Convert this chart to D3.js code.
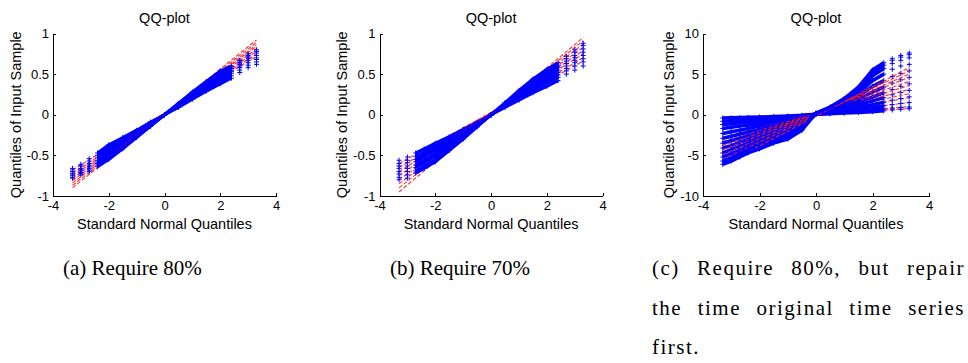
<!DOCTYPE html>
<html><head><meta charset="utf-8">
<script src="https://cdn.jsdelivr.net/npm/d3@7"></script>
<style>body{margin:0;background:#fff} svg{display:block}</style>
</head><body>
<svg id="chart" width="968" height="363"></svg>
<script>
// ---- data ----
const quantiles = [-3.3,-3.0,-2.7,-2.4,-2.0,-1.5,-1.0,-0.5,0,0.5,1.0,1.5,2.0,2.4,2.7,3.0,3.3];
const refX = [-3.3, 3.3];
const xTicks = [-4,-2,0,2,4];
const yTicksAB = [-1,-0.5,0,0.5,1];
const yTicksC = [-10,-5,0,5,10];

const seriesA = [
  [-0.66,-0.61,-0.54,-0.47,-0.37,-0.28,-0.19,-0.09,0.0,0.09,0.19,0.29,0.38,0.45,0.52,0.58,0.62],
  [-0.68,-0.63,-0.57,-0.50,-0.40,-0.30,-0.20,-0.10,0.0,0.10,0.20,0.31,0.41,0.48,0.55,0.61,0.65],
  [-0.70,-0.66,-0.60,-0.53,-0.43,-0.32,-0.21,-0.11,0.0,0.11,0.22,0.33,0.43,0.51,0.58,0.64,0.68],
  [-0.72,-0.67,-0.62,-0.56,-0.46,-0.35,-0.23,-0.11,0.0,0.12,0.23,0.35,0.46,0.53,0.60,0.67,0.70],
  [-0.73,-0.69,-0.64,-0.58,-0.49,-0.37,-0.25,-0.12,0.0,0.12,0.25,0.37,0.48,0.55,0.62,0.69,0.73],
  [-0.75,-0.71,-0.66,-0.60,-0.51,-0.39,-0.26,-0.13,0.0,0.13,0.26,0.39,0.50,0.57,0.64,0.71,0.76],
  [-0.77,-0.72,-0.68,-0.62,-0.53,-0.41,-0.27,-0.14,0.0,0.14,0.27,0.40,0.52,0.59,0.66,0.73,0.78],
  [-0.78,-0.74,-0.70,-0.64,-0.55,-0.42,-0.28,-0.14,0.0,0.14,0.28,0.41,0.54,0.60,0.67,0.75,0.80]
];
const refLinesA = [[-0.68,0.72],[-0.72,0.75],[-0.75,0.78],[-0.78,0.81],[-0.81,0.84],[-0.84,0.86],[-0.87,0.89],[-0.90,0.92]];

const seriesB = [
  [-0.56,-0.52,-0.47,-0.42,-0.35,-0.27,-0.18,-0.09,0.0,0.09,0.18,0.27,0.35,0.42,0.50,0.55,0.60],
  [-0.60,-0.56,-0.51,-0.46,-0.38,-0.29,-0.19,-0.10,0.0,0.10,0.20,0.30,0.39,0.46,0.54,0.60,0.65],
  [-0.63,-0.59,-0.55,-0.49,-0.41,-0.31,-0.21,-0.10,0.0,0.11,0.21,0.32,0.42,0.49,0.57,0.64,0.69],
  [-0.66,-0.63,-0.58,-0.52,-0.44,-0.34,-0.23,-0.11,0.0,0.12,0.23,0.34,0.45,0.52,0.60,0.67,0.73],
  [-0.70,-0.66,-0.62,-0.56,-0.48,-0.36,-0.25,-0.12,0.0,0.12,0.25,0.36,0.47,0.55,0.63,0.70,0.77],
  [-0.73,-0.70,-0.65,-0.59,-0.51,-0.39,-0.26,-0.13,0.0,0.13,0.26,0.39,0.50,0.58,0.66,0.73,0.81],
  [-0.77,-0.74,-0.69,-0.63,-0.55,-0.41,-0.28,-0.14,0.0,0.14,0.28,0.41,0.53,0.61,0.69,0.77,0.85],
  [-0.80,-0.78,-0.72,-0.66,-0.58,-0.44,-0.30,-0.15,0.0,0.15,0.30,0.44,0.56,0.64,0.72,0.80,0.88]
];
const refLinesB = [[-0.60,0.66],[-0.65,0.70],[-0.70,0.75],[-0.75,0.79],[-0.80,0.83],[-0.85,0.87],[-0.90,0.91],[-0.95,0.95]];

const seriesC = [
  [-0.4,-0.38,-0.35,-0.32,-0.28,-0.22,-0.15,-0.07,0.05,0.12,0.2,0.28,0.38,0.48,0.58,0.68,0.75],
  [-0.8,-0.75,-0.68,-0.6,-0.5,-0.38,-0.26,-0.12,0.05,0.18,0.3,0.44,0.6,0.72,0.82,0.9,0.95],
  [-1.2,-1.1,-1.0,-0.9,-0.75,-0.55,-0.38,-0.18,0.05,0.25,0.45,0.65,0.9,1.1,1.25,1.4,1.5],
  [-1.7,-1.55,-1.4,-1.25,-1.05,-0.8,-0.55,-0.27,0.08,0.35,0.62,0.9,1.25,1.55,1.8,2.0,2.2],
  [-2.3,-2.1,-1.9,-1.7,-1.4,-1.05,-0.72,-0.36,0.08,0.45,0.82,1.2,1.7,2.1,2.45,2.75,3.0],
  [-2.9,-2.65,-2.4,-2.15,-1.8,-1.35,-0.95,-0.47,0.1,0.55,1.0,1.55,2.2,2.7,3.1,3.5,3.8],
  [-3.5,-3.2,-2.9,-2.6,-2.2,-1.7,-1.2,-0.6,0.1,0.62,1.2,1.9,2.8,3.4,3.9,4.3,4.6],
  [-4.1,-3.8,-3.4,-3.05,-2.6,-2.1,-1.55,-0.8,0.12,0.7,1.4,2.3,3.5,4.2,4.7,5.1,5.4],
  [-4.7,-4.3,-3.9,-3.5,-3.0,-2.5,-1.95,-1.05,0.15,0.78,1.6,2.7,4.2,5.0,5.6,6.0,6.2],
  [-5.2,-4.8,-4.4,-3.9,-3.4,-2.9,-2.4,-1.35,0.15,0.85,1.75,3.0,4.8,5.7,6.3,6.7,7.0],
  [-5.7,-5.3,-4.8,-4.3,-3.8,-3.2,-2.75,-1.65,0.18,0.9,1.9,3.2,5.2,6.1,6.7,7.1,7.4],
  [-6.1,-5.7,-5.2,-4.7,-4.2,-3.5,-3.0,-1.9,0.2,0.95,2.0,3.4,5.5,6.4,6.9,7.3,7.6]
];
const refLinesC = [[-0.5,0.75],[-0.9,1.0],[-1.3,1.5],[-1.8,2.1],[-2.3,2.6],[-2.8,3.1],[-3.3,3.6],[-3.8,4.1],[-4.3,4.6],[-4.9,5.0],[-5.5,5.4],[-6.2,5.8]];

const titleText = "QQ-plot";
const xLabelText = "Standard Normal Quantiles";
const yLabelText = "Quantiles of Input Sample";
const captionA = ["(a) Require 80%"];
const captionB = ["(b) Require 70%"];
const captionC = ["(c) Require 80%, but repair", "the time original time series", "first."];

// ---- layout ----
const panels = [
  {series: seriesA, refs: refLinesA, yDomain: [-1,1], yTicks: yTicksAB, left: 53, right: 276, ylabX: 16,
   core: [-2.4, 2.4], lw: 3, caption: captionA, capX: 63, capW: [null], ls: 0},
  {series: seriesB, refs: refLinesB, yDomain: [-1,1], yTicks: yTicksAB, left: 379.5, right: 602.7, ylabX: 342,
   core: [-2.7, 2.4], lw: 3, caption: captionB, capX: 390, capW: [null], ls: 0},
  {series: seriesC, refs: refLinesC, yDomain: [-10,10], yTicks: yTicksC, left: 703, right: 929, ylabX: 669,
   core: [-3.3, 2.4], lw: 3.5, caption: captionC, capX: 652, capW: [313, 313, null], ls: 1.5}
];
const plotTop = 33.5, plotBottom = 196;
const sans = "'Liberation Sans', Helvetica, Arial, sans-serif";
const serif = "'Liberation Serif', 'Times New Roman', serif";
const svg = d3.select("#chart");
const fmt = d => String(d);

panels.forEach(p => {
  const xs = d3.scaleLinear().domain([-4,4]).range([p.left, p.right]);
  const ys = d3.scaleLinear().domain(p.yDomain).range([plotBottom, plotTop]);
  const g = svg.append("g");
  const line = d3.line().x(d => xs(d[0])).y(d => ys(d[1]));

  // one group per sample column: its red reference line, then its blue data
  const cols = p.series.map((s, i) => ({pts: s.map((v, k) => [quantiles[k], v]), ref: p.refs[i]}));
  const cg = g.append("g").selectAll("g").data(cols).join("g");
  cg.append("path")
    .attr("d", c => line([[refX[0], c.ref[0]], [refX[1], c.ref[1]]]))
    .attr("fill", "none").attr("stroke", "#ff1a1a").attr("stroke-width", 1.2)
    .attr("stroke-dasharray", "4,2").attr("opacity", 0.85);
  cg.append("path")
    .attr("d", c => line(c.pts.filter(d => d[0] >= p.core[0] && d[0] <= p.core[1])))
    .attr("fill", "none").attr("stroke", "#0000ff").attr("stroke-width", p.lw)
    .attr("stroke-linejoin", "round");
  cg.selectAll("path.m").data(c => c.pts).join("path").attr("class", "m")
    .attr("transform", d => `translate(${xs(d[0])},${ys(d[1])})`)
    .attr("d", "M-2.5,0H2.5M0,-2.5V2.5")
    .attr("stroke", "#0000ff").attr("stroke-width", 1).attr("fill", "none");

  // axes
  const xa = g.append("g").attr("transform", `translate(0,${plotBottom})`)
    .call(d3.axisBottom(xs).tickValues(xTicks).tickFormat(fmt).tickSizeInner(-3).tickSizeOuter(0).tickPadding(5));
  const ya = g.append("g").attr("transform", `translate(${p.left},0)`)
    .call(d3.axisLeft(ys).tickValues(p.yTicks).tickFormat(fmt).tickSizeInner(-3).tickSizeOuter(0).tickPadding(4));
  [xa, ya].forEach(a => {
    a.selectAll("path,line").attr("stroke", "#000").attr("shape-rendering", "crispEdges");
    a.selectAll("text").attr("font-family", sans).attr("font-size", 13).attr("fill", "#000");
  });

  // title and labels
  g.append("text").attr("x", xs(0)).attr("y", 23).attr("text-anchor", "middle")
    .attr("font-family", sans).attr("font-size", 14.5).text(titleText);
  g.append("text").attr("x", xs(0)).attr("y", 229).attr("text-anchor", "middle")
    .attr("font-family", sans).attr("font-size", 14.5).text(xLabelText);
  g.append("text").attr("transform", `translate(${p.ylabX},${(plotTop + plotBottom) / 2}) rotate(-90)`)
    .attr("text-anchor", "middle").attr("dy", "0.35em")
    .attr("font-family", sans).attr("font-size", 14.5).text(yLabelText);

  // caption (justified lines use extra word spacing, as in LaTeX)
  p.caption.forEach((t, i) => {
    const tx = svg.append("text").attr("x", p.capX).attr("y", 275 + i * 39.5)
      .attr("font-family", serif).attr("font-size", 21).attr("letter-spacing", p.ls)
      .attr("fill", "#000").text(t);
    if (p.capW[i]) {
      const natural = tx.node().getComputedTextLength();
      const gaps = (t.match(/ /g) || []).length;
      if (gaps) tx.attr("word-spacing", Math.max(0, (p.capW[i] - natural) / gaps));
    }
  });
});
</script>
</body></html>
